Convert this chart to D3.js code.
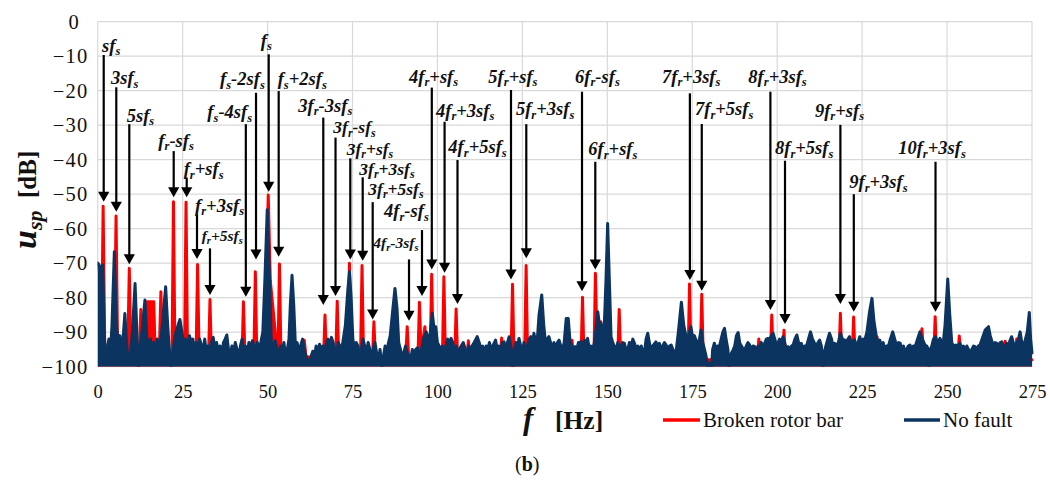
<!DOCTYPE html>
<html>
<head>
<meta charset="utf-8">
<script src="https://cdn.jsdelivr.net/npm/d3@7"></script>
<style>
  html, body { margin: 0; padding: 0; background: #ffffff; }
  svg { display: block; }
  text { font-family: "Liberation Serif", "Times New Roman", serif; fill: #111; }
</style>
</head>
<body>
<svg id="chart" width="1050" height="484"></svg>
<script>
// ---- axis ticks ----
const freqTicks = [0, 25, 50, 75, 100, 125, 150, 175, 200, 225, 250, 275];
const dbTicks = [0, -10, -20, -30, -40, -50, -60, -70, -80, -90, -100];

// ---- series names ----
const seriesNames = ["Broken rotor bar", "No fault"];

// ---- spectrum of the motor with a broken rotor bar: [f (Hz), u_sp (dB)] ----
const brokenRotorBar = [
  [0,-70],[0.6,-72],[1.1,-96],[1.6,-53.5],[2.1,-97],
  [3,-98],[4.9,-98],[5.4,-56.3],[5.9,-98],
  [8.8,-98],[9.3,-71.5],[9.8,-98],
  [12.2,-97],[12.7,-83.4],[13.2,-97],
  [14.1,-96],[14.5,-81.2],[16.5,-81.2],[16.9,-96],
  [18.1,-97],[18.6,-78.3],[19.1,-97],
  [21.85,-98],[22.3,-52.2],[22.75,-98],
  [25.55,-98],[26.0,-52.3],[26.45,-98],
  [28.95,-97],[29.4,-70.4],[29.85,-97],
  [32.6,-98],[33.05,-80.5],[33.5,-98],
  [42.45,-98],[42.9,-81.2],[43.35,-98],
  [45.95,-98],[46.4,-72.5],[46.85,-98],
  [47.8,-97],[48.3,-92.5],[48.8,-97],
  [49.6,-75],[50.2,-50.2],[50.8,-75],
  [53.05,-98],[53.5,-70.2],[53.95,-98],
  [60.3,-97],[60.8,-92.3],[61.3,-97],
  [66.45,-98],[66.9,-85],[67.35,-98],
  [70.05,-98],[70.5,-81],[70.95,-98],
  [73.65,-98],[74.1,-70],[74.55,-98],
  [77.35,-98],[77.8,-70.7],[78.25,-98],
  [80.85,-98],[81.3,-87],[81.75,-98],
  [90.65,-98],[91.1,-88.4],[91.55,-98],
  [94.25,-98],[94.7,-81.3],[95.2,-96],[96.3,-88.4],[96.8,-98],
  [97.85,-98],[98.3,-73.2],[98.75,-98],
  [101.45,-98],[101.9,-73.9],[102.35,-98],
  [105.05,-98],[105.5,-83.3],[105.95,-98],
  [108.6,-98],[109.1,-92.5],[109.6,-98],
  [118.4,-98],[118.9,-91.7],[119.4,-98],
  [121.65,-98],[122.1,-76.1],[122.55,-98],
  [125.65,-98],[126.1,-70.7],[126.55,-98],
  [139.1,-98],[139.6,-92.3],[140.1,-98],
  [142.25,-98],[142.7,-79.9],[143.15,-98],
  [146.05,-98],[146.5,-72.9],[147,-95],[148.1,-87],[148.6,-98],
  [153.05,-98],[153.5,-83.4],[153.95,-98],
  [173.75,-98],[174.2,-76],[174.65,-98],
  [177.35,-98],[177.8,-79],[178.25,-98],
  [194.1,-98],[194.6,-92],[195.1,-98],
  [197.95,-98],[198.4,-85],[198.85,-98],
  [201.55,-98],[202,-89.4],[202.45,-98],
  [218.15,-98],[218.6,-84.5],[219.05,-98],
  [222.05,-98],[222.5,-85.6],[222.95,-98],
  [228.9,-98],[229.4,-91.4],[229.9,-98],
  [241.9,-98],[242.6,-89],[243.2,-98],
  [246.05,-98],[246.5,-85.5],[246.95,-98],
  [253.1,-98],[253.6,-91.1],[254.1,-98],
  [266.6,-98],[267.1,-92.6],[267.6,-98],
  [270,-98],[270.5,-92],[271,-98],[275,-98]
];

// ---- spectrum of the healthy motor: [f (Hz), u_sp (dB)] ----
const noFault = [
  [0,-70],[0.4,-70.5],[0.8,-80],[1.1,-71],[1.5,-70.5],[1.9,-90],[2.3,-97],[2.8,-95],[3.3,-92],[3.8,-95],
  [4.2,-88],[4.9,-66.7],[5.5,-88],[6,-93],[6.5,-91],[7,-96],[7.6,-90],[8,-84.6],[8.5,-93],[9,-99],
  [9.6,-97],[10.2,-90],[11,-75.9],[11.6,-92],[12,-100],[12.4,-95],[13,-90],[13.9,-80.7],[14.5,-92],[15,-95],
  [15.5,-92],[16,-95],[16.5,-93],[17,-98],[17.5,-92],[18,-94],[18.6,-92],[19.2,-86],[20,-76.8],[20.6,-88],
  [21,-94],[21.6,-100],[22.1,-96],[22.6,-92],[23,-90],[23.5,-88.5],[24.2,-86.3],[24.8,-90],[25.4,-94],[25.9,-92],
  [26.5,-95],[27,-91],[27.5,-93],[28,-92],[28.5,-95],[29,-93],[29.5,-96],[30,-92],[30.6,-94],[31,-95.5],
  [31.5,-92],[32,-96],[32.5,-94],[33,-97],[33.5,-93],[34,-91.5],[34.5,-95],[35,-93],[35.5,-96],[36,-94],
  [36.5,-98],[37,-93],[37.5,-92],[38,-90.8],[38.5,-95],[39,-97],[39.5,-94],[40,-96],[40.5,-93],[41,-95],
  [41.5,-98],[42,-94],[42.5,-92],[43,-96],[43.5,-94],[44,-97],[44.5,-93],[45,-95],[45.5,-92.5],[46,-94],
  [46.5,-96],[47,-93],[47.5,-95],[48,-93],[48.6,-90],[49.2,-75],[49.9,-54.5],[50.6,-75],[51.1,-93],[51.6,-94],
  [52.2,-92.5],[52.8,-95],[53.3,-97],[53.8,-94],[54.3,-96],[54.8,-93],[55.3,-97],[55.8,-95],[56.3,-92],[56.7,-82],
  [57.2,-73.5],[57.7,-82],[58.2,-94],[58.7,-93],[59.2,-96],[59.7,-94],[60.3,-92],[60.8,-95],[61.3,-97],[61.8,-98],
  [62.3,-99],[62.8,-97],[63.3,-95.5],[63.8,-97],[64.3,-94],[64.8,-96],[65.3,-93.5],[65.8,-95],[66.3,-94],[66.8,-96],
  [67.3,-93],[67.8,-92],[68.3,-94],[68.8,-91.5],[69.3,-93],[69.8,-95],[70.3,-96],[70.8,-93],[71.3,-94],[71.8,-95],
  [72.3,-92],[72.9,-88],[73.6,-78],[74.1,-72.5],[74.6,-80],[75.1,-92],[75.6,-95],[76.1,-93],[76.6,-94],[77.1,-97],
  [77.6,-95],[78.1,-92],[78.6,-94],[79.1,-96],[79.6,-93],[80.1,-95],[80.6,-97],[81.1,-95],[81.6,-93],[82.1,-96],
  [82.6,-98],[83.1,-95],[83.6,-100],[84.1,-97],[84.6,-94],[85.1,-96],[85.6,-93],[86.1,-91],[86.8,-84],[87.5,-77.3],
  [88.1,-83],[88.6,-93],[89.1,-95],[89.6,-97],[90.1,-96],[90.6,-94],[91.1,-96],[91.6,-97],[92.1,-98],[92.6,-95],
  [93.1,-97],[93.6,-95],[94.1,-94.5],[94.7,-96],[95.3,-95],[95.8,-92],[96.7,-89.9],[97.4,-93],[97.9,-90],[98.5,-84.5],
  [99.1,-90],[99.5,-88.4],[100,-93],[100.5,-94],[101,-95],[101.5,-94],[102,-96],[102.5,-94],[103,-92],[103.5,-93],
  [104,-91.8],[104.5,-93],[105,-95],[105.5,-94],[106,-96],[106.4,-95],[107,-94],[107.6,-93],[108.2,-95],[108.7,-96],
  [109.2,-94],[109.7,-95],[110.2,-94],[110.8,-93],[111.7,-91.3],[112.3,-93],[112.8,-95],[113.3,-94],[113.8,-96],[114.3,-94],
  [114.8,-95],[115.3,-93],[115.8,-95],[116.3,-94],[117.1,-92.3],[117.6,-95],[118.1,-94],[118.6,-96],[119.1,-93],[119.6,-92.8],
  [120.1,-95],[120.6,-93],[121.1,-91.3],[121.6,-94],[122.1,-100],[122.6,-95],[123.1,-93],[123.5,-95],[124,-91.8],[124.5,-94],
  [125,-95],[125.5,-93],[126,-96],[126.5,-94],[127,-92],[127.5,-91.3],[128,-93],[128.4,-90.3],[128.9,-93],[129.4,-92],
  [129.9,-85],[130.7,-79.2],[131.3,-88],[131.8,-93],[132.3,-92],[132.8,-91.3],[133.3,-93],[133.8,-94],[134.3,-93],[134.8,-95],
  [135.3,-93],[135.8,-92.3],[136.3,-94],[136.8,-95],[137.3,-93],[137.9,-86],[138.5,-86],[139,-92.3],[139.5,-94],[140,-95],
  [140.5,-94.2],[141,-95],[141.5,-93],[142.3,-92.8],[142.8,-94],[143.3,-92.3],[143.8,-93],[144.2,-91.8],[144.7,-95],[145.2,-94],
  [145.7,-95.2],[146.2,-93],[146.7,-89],[147.2,-84.1],[147.7,-88],[148.1,-87.4],[148.6,-89],[149.1,-88.4],[149.6,-75],[150.1,-58.5],
  [150.6,-75],[151.1,-91.3],[151.6,-93],[152.1,-94.2],[152.6,-95],[153.1,-93],[153.6,-95],[154,-94.2],[154.5,-93],[155,-93.2],
  [155.5,-95],[156,-95.2],[156.5,-93],[157,-94.2],[157.5,-92],[158,-93.2],[158.5,-95],[159,-94],[159.5,-95.2],[160,-94],
  [160.5,-96],[160.9,-96.1],[161.4,-92],[161.9,-90.3],[162.4,-93.2],[162.9,-95],[163.4,-94],[164.3,-92.8],[164.8,-94],[165.3,-93.2],
  [165.8,-95],[166.3,-94],[166.8,-93],[167.3,-93.7],[167.8,-95],[168.3,-94],[168.8,-93.7],[169.3,-95],[169.8,-96],[170.2,-96.1],
  [170.9,-90],[171.8,-81.3],[172.5,-88],[173.2,-91.3],[173.7,-92],[174.6,-88.4],[175.2,-92],[175.6,-91],[176.1,-92.3],[176.6,-94],
  [177.1,-92],[177.6,-89.4],[178.1,-93],[178.6,-95],[179.1,-97.1],[179.6,-100],[180,-99],[180.7,-100],[181,-95],[181.5,-93.2],
  [182,-95],[182.5,-94],[183,-94.2],[183.5,-92],[184,-90],[184.5,-88.9],[185,-92.3],[185.5,-95],[185.8,-100],[186.5,-96.1],
  [187,-95.2],[187.5,-94],[188,-91],[188.5,-90.1],[189,-93.2],[189.5,-94],[190,-95],[190.4,-95.2],[190.9,-94],[191.4,-93],
  [191.9,-93.7],[192.4,-95],[192.9,-94],[193.4,-94.2],[193.9,-95],[194.4,-94],[194.8,-95.2],[195.3,-93],[195.8,-94],[196.3,-93.2],
  [196.8,-92],[197.3,-91.8],[197.8,-92],[198.3,-91],[198.8,-90.3],[199.3,-92],[199.8,-94],[200.2,-93.2],[200.7,-92],[201.2,-93],
  [201.7,-91.3],[202.2,-93],[202.7,-95],[203.2,-94.2],[203.7,-95],[204.2,-94],[204.7,-93.7],[205.2,-92],[205.8,-90.8],[206.3,-93],
  [206.7,-94],[207.1,-93.2],[207.6,-95],[208.1,-94],[208.6,-94.2],[209.2,-92],[209.8,-89.9],[210.4,-92],[211,-93.2],[211.5,-94],
  [212,-93],[212.5,-92.3],[213,-94],[213.5,-100],[214,-95.2],[214.6,-93],[215.4,-90.3],[216,-92],[216.4,-94],[216.9,-93.2],
  [217.4,-94],[218,-93],[218.6,-90.3],[219.2,-92],[219.9,-92.3],[220.4,-93],[220.8,-92],[221.3,-91.3],[221.8,-93],[222.3,-92.5],
  [222.8,-92.3],[223.3,-94],[223.8,-93],[224.3,-91.3],[224.8,-93],[225.3,-92],[225.8,-92.3],[226.4,-90],[227.2,-84],[227.9,-80.2],
  [228.5,-87],[229.2,-91.3],[229.7,-93],[230.2,-92.3],[230.7,-94],[231.2,-93],[231.7,-95.2],[232.2,-94],[232.7,-94.2],[233.3,-92],
  [234,-89.9],[234.6,-92],[235.2,-94.2],[235.7,-93],[236.2,-93.2],[236.7,-95],[237.2,-94],[237.6,-96.1],[238.1,-95],[238.6,-94],
  [239.1,-93.7],[239.6,-95],[240.1,-94],[240.6,-94.2],[241.3,-92],[242,-89.9],[242.7,-92],[243.5,-93.7],[244,-94],[244.5,-95],
  [244.7,-100],[245,-95.2],[245.5,-94],[246,-92],[246.6,-91.3],[247.2,-93],[247.9,-91.8],[248.4,-93],[248.9,-92.8],[249.4,-88],
  [250.2,-74.6],[250.8,-85],[251.4,-93.2],[252,-94],[252.6,-93.7],[253.2,-94],[253.8,-93.2],[254.3,-95],[254.8,-94],[255.3,-95.2],
  [255.8,-94],[256.3,-95],[256.8,-96.1],[257.3,-95],[257.8,-94],[258.2,-94.2],[258.7,-95],[259.2,-94],[259.7,-93.7],[260.3,-92],
  [261.2,-89.4],[262.2,-88.4],[262.7,-91],[263.1,-92.3],[263.6,-94],[264.1,-93],[264.6,-93.2],[265.1,-94],[265.6,-93],[266.1,-92.8],
  [266.6,-94],[267.1,-95],[267.5,-93.2],[268,-94],[268.5,-92.5],[269,-91.3],[269.5,-93],[270,-94],[270.5,-93.2],[271,-92],
  [271.5,-89.9],[272,-93],[272.5,-94],[273,-92.3],[273.6,-90],[274.2,-84.3],[274.6,-92],[275,-96]
];

// ---- harmonic labels ("_x" marks a subscript letter) ----
const harmonicNames = [
  "sf_s", "3sf_s", "5sf_s", "f_r-sf_s", "f_r+sf_s", "f_r+3sf_s", "f_r+5sf_s",
  "f_s-4sf_s", "f_s-2sf_s", "f_s", "f_s+2sf_s",
  "3f_r-3sf_s", "3f_r-sf_s", "3f_r+sf_s", "3f_r+3sf_s", "3f_r+5sf_s",
  "4f_r-3sf_s", "4f_r-sf_s", "4f_r+sf_s", "4f_r+3sf_s", "4f_r+5sf_s",
  "5f_r+sf_s", "5f_r+3sf_s", "6f_r-sf_s", "6f_r+sf_s",
  "7f_r+3sf_s", "7f_r+5sf_s", "8f_r+3sf_s", "8f_r+5sf_s",
  "9f_r+sf_s", "9f_r+3sf_s", "10f_r+3sf_s"
];
// frequency each arrow points at (Hz)
const harmonicHz = [
  1.77, 5.47, 9.3, 22.37, 26.2, 29.23, 33.05,
  43.6, 46.6, 50.33, 53.27,
  66.4, 70.0, 74.35, 78.0, 80.94,
  91.63, 95.45, 98.34, 102.1, 105.9,
  121.65, 126.15, 142.55, 146.46,
  174.3, 177.8, 198.0, 202.3,
  218.6, 222.55, 246.6
];

// ---- annotation layout: [arrow tail dB, arrow tip dB, label left Hz, label baseline dB, font px] ----
const labelLayout = [
  [-9.65, -52.2, 1.27, -8.7, 18.5], [-19.0, -55.1, 3.91, -18.2, 18.5], [-29.7, -70.3, 8.54, -29.0, 18.5],
  [-37.5, -50.9, 17.84, -36.2, 18.5], [-45.2, -50.9, 25.3, -44.4, 18.5], [-55.8, -68.8, 28.64, -55.1, 18.5],
  [-65.7, -79.2, 30.6, -63.5, 15.5],
  [-29.7, -79.7, 32.26, -28.0, 18.5], [-20.6, -68.9, 36.0, -18.3, 18.5], [-9.45, -49.3, 48.0, -7.2, 18.5],
  [-20.1, -68.1, 52.98, -18.3, 18.5],
  [-27.8, -82.1, 59.04, -26.1, 18.5], [-33.6, -79.5, 69.35, -32.3, 17.5], [-39.6, -68.9, 73.29, -38.6, 17.5],
  [-45.1, -69.3, 77.0, -44.4, 17.5], [-52.3, -86.3, 79.65, -50.2, 17.5],
  [-68.9, -86.7, 81.12, -65.7, 15.5], [-60.4, -79.5, 84.27, -56.7, 18.5], [-19.1, -71.8, 91.63, -17.7, 18.5],
  [-29.0, -72.75, 99.57, -27.5, 18.5], [-40.1, -81.8, 103.2, -38.1, 18.5],
  [-19.8, -74.7, 114.97, -17.7, 18.5], [-29.7, -68.6, 123.1, -27.0, 18.5], [-20.3, -78.1, 140.5, -17.7, 18.5],
  [-40.6, -71.8, 144.4, -38.6, 18.5],
  [-20.75, -74.9, 166.1, -17.7, 18.5], [-29.65, -78.0, 175.8, -27.0, 18.5], [-20.3, -83.6, 191.5, -17.7, 18.5],
  [-40.3, -87.6, 199.35, -38.3, 18.5],
  [-29.9, -81.8, 211.1, -27.5, 18.5], [-50.0, -84.1, 221.2, -48.3, 18.5], [-40.6, -84.1, 235.6, -38.3, 18.5]
];

// ---- drawing ----
const svg = d3.select("#chart");
const plot = { left: 97.7, right: 1032, top: 21.7, bottom: 366.7 };
const colors = { broken: "#ff0000", healthy: "#0c3460", grid: "#d9d9d9" };

const x = d3.scaleLinear().domain([0, 275]).range([plot.left, plot.right]);
const y = d3.scaleLinear().domain([-100, 0]).range([plot.bottom, plot.top]);

// grid
const grid = svg.append("g");
grid.selectAll("line.h").data(dbTicks).join("line")
  .attr("x1", plot.left).attr("x2", plot.right)
  .attr("y1", d => y(d)).attr("y2", d => y(d))
  .attr("stroke", colors.grid).attr("stroke-width", 1.2);
grid.selectAll("line.v").data(freqTicks).join("line")
  .attr("y1", plot.top).attr("y2", plot.bottom)
  .attr("x1", d => x(d)).attr("x2", d => x(d))
  .attr("stroke", colors.grid).attr("stroke-width", 1.2);

// axes (labels only)
const yAxis = svg.append("g")
  .attr("transform", `translate(${plot.left},0)`)
  .call(d3.axisLeft(y).tickValues(dbTicks).tickSize(0).tickPadding(9.2).tickFormat(d3.format("d")));
yAxis.select(".domain").remove();
yAxis.selectAll("text")
  .attr("font-family", "Liberation Serif, serif").attr("font-size", 20.5)
  .attr("letter-spacing", 1.2).attr("fill", "#111")
  .filter(d => d === 0).attr("dx", -8.5);

const xAxis = svg.append("g")
  .attr("transform", `translate(0,${plot.bottom})`)
  .call(d3.axisBottom(x).tickValues(freqTicks).tickSize(0).tickPadding(18));
xAxis.select(".domain").remove();
xAxis.selectAll("text")
  .attr("font-family", "Liberation Serif, serif").attr("font-size", 18.5).attr("fill", "#111");

// spectra
svg.append("clipPath").attr("id", "plot-clip")
  .append("rect").attr("x", plot.left).attr("y", plot.top - 4)
  .attr("width", plot.right - plot.left + 2).attr("height", plot.bottom - plot.top + 4);

const area = d3.area().x(d => x(d[0])).y0(y(-100)).y1(d => y(d[1]));
const line = d3.line().x(d => x(d[0])).y(d => y(d[1]));

const spectra = svg.append("g").attr("clip-path", "url(#plot-clip)");
[[brokenRotorBar, colors.broken], [noFault, colors.healthy]].forEach(([data, c]) => {
  spectra.append("path").datum(data).attr("d", area).attr("fill", c);
  spectra.append("path").datum(data).attr("d", line)
    .attr("fill", "none").attr("stroke", c).attr("stroke-width", 3)
    .attr("stroke-linejoin", "round").attr("stroke-linecap", "round");
});

// harmonic arrows and labels
function writeLabel(sel, markup, size) {
  const parts = [];
  for (let i = 0; i < markup.length; i++) {
    if (markup[i] === "_") { parts.push({ t: markup[i + 1], sub: true }); i++; }
    else parts.push({ t: markup[i], sub: false });
  }
  let lowered = false;
  parts.forEach(p => {
    const ts = sel.append("tspan").text(p.t);
    if (p.sub) {
      ts.attr("font-size", size * 0.68);
      if (!lowered) { ts.attr("dy", size * 0.2); lowered = true; }
    } else if (lowered) {
      ts.attr("dy", -size * 0.2); lowered = false;
    }
  });
}

const notes = svg.append("g");
harmonicNames.forEach((name, i) => {
  const [tailDb, tipDb, labelHz, labelDb, size] = labelLayout[i];
  const ax = x(harmonicHz[i]);
  const tipY = y(tipDb);
  notes.append("line")
    .attr("x1", ax).attr("x2", ax).attr("y1", y(tailDb)).attr("y2", tipY - 8)
    .attr("stroke", "#000").attr("stroke-width", 2.2);
  notes.append("path")
    .attr("d", `M${ax - 5.6},${tipY - 10} L${ax + 5.6},${tipY - 10} L${ax},${tipY} Z`)
    .attr("fill", "#000");
  const t = notes.append("text")
    .attr("x", x(labelHz)).attr("y", y(labelDb))
    .attr("font-size", size).attr("font-weight", "bold").attr("font-style", "italic")
    .attr("fill", "#000");
  writeLabel(t, name, size);
});

// axis titles
const yTitle = svg.append("text")
  .attr("transform", "translate(36,249) rotate(-90)")
  .attr("font-weight", "bold").attr("fill", "#111");
yTitle.append("tspan").text("u").attr("font-size", 34).attr("font-style", "italic");
yTitle.append("tspan").text("sp").attr("font-size", 22).attr("font-style", "italic").attr("dy", 6);
yTitle.append("tspan").text("[dB]").attr("font-size", 25).attr("x", 51).attr("dy", -6);

const xTitle = svg.append("text").attr("x", 523).attr("y", 429)
  .attr("font-weight", "bold").attr("fill", "#111");
xTitle.append("tspan").text("f").attr("font-size", 31).attr("font-style", "italic");
xTitle.append("tspan").text("[Hz]").attr("font-size", 25.5).attr("x", 555);

// legend
const legend = svg.append("g");
[[663, 700, 703, colors.broken, seriesNames[0]], [904, 940, 943, colors.healthy, seriesNames[1]]]
  .forEach(([x1, x2, tx, c, label]) => {
    legend.append("line").attr("x1", x1).attr("x2", x2).attr("y1", 420).attr("y2", 420)
      .attr("stroke", c).attr("stroke-width", 3.5);
    legend.append("text").attr("x", tx).attr("y", 427)
      .attr("font-size", 21).attr("fill", "#111").text(label);
  });

// panel tag
const tag = svg.append("text").attr("x", 515).attr("y", 471).attr("font-size", 20).attr("fill", "#111");
tag.append("tspan").text("(");
tag.append("tspan").text("b").attr("font-weight", "bold");
tag.append("tspan").text(")");
</script>
</body>
</html>
